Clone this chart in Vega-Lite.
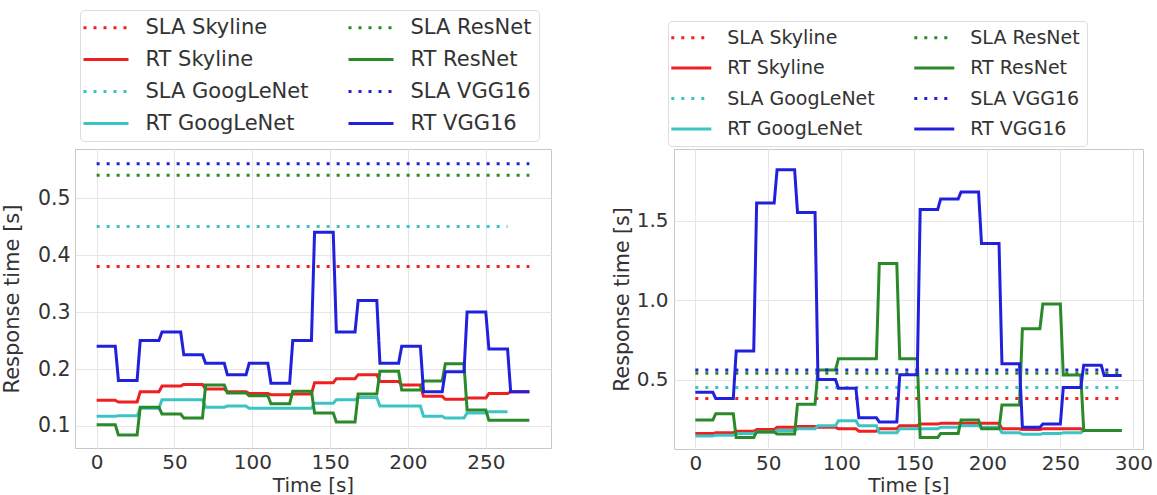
{
 "$schema": "https://vega.github.io/schema/vega-lite/v6.json",
 "background": "white",
 "padding": {"left": 0, "top": 9, "right": 0, "bottom": 0},
 "autosize": {"type": "pad"},
 "spacing": 123,
 "bounds": "flush",
 "config": {
  "font": "DejaVu Sans",
  "view": {"stroke": "#c8c8c8", "strokeWidth": 1},
  "axis": {"grid": true, "gridColor": "#e6e6e6", "gridWidth": 1, "domain": false, "ticks": false, "labelFont": "DejaVu Sans", "titleFont": "DejaVu Sans", "labelColor": "#333333", "titleColor": "#333333", "titleFontWeight": "normal", "labelFlush": false},
  "legend": {"labelFont": "DejaVu Sans", "labelColor": "#333333"}
 },
 "datasets": {
  "L": [
   {"s":"SLA Skyline","t":0,"v":0.38},{"s":"SLA Skyline","t":278,"v":0.38},
   {"s":"RT Skyline","t":0,"v":0.145},{"s":"RT Skyline","t":12,"v":0.145},
   {"s":"RT Skyline","t":14,"v":0.142},{"s":"RT Skyline","t":26,"v":0.142},
   {"s":"RT Skyline","t":28,"v":0.16},{"s":"RT Skyline","t":40,"v":0.16},
   {"s":"RT Skyline","t":42,"v":0.17},{"s":"RT Skyline","t":54,"v":0.17},
   {"s":"RT Skyline","t":56,"v":0.173},{"s":"RT Skyline","t":68,"v":0.173},
   {"s":"RT Skyline","t":70,"v":0.165},{"s":"RT Skyline","t":82,"v":0.165},
   {"s":"RT Skyline","t":84,"v":0.16},{"s":"RT Skyline","t":96,"v":0.16},
   {"s":"RT Skyline","t":98,"v":0.157},{"s":"RT Skyline","t":110,"v":0.157},
   {"s":"RT Skyline","t":112,"v":0.155},{"s":"RT Skyline","t":124,"v":0.155},
   {"s":"RT Skyline","t":126,"v":0.156},{"s":"RT Skyline","t":138,"v":0.156},
   {"s":"RT Skyline","t":140,"v":0.176},{"s":"RT Skyline","t":152,"v":0.176},
   {"s":"RT Skyline","t":154,"v":0.183},{"s":"RT Skyline","t":166,"v":0.183},
   {"s":"RT Skyline","t":168,"v":0.19},{"s":"RT Skyline","t":180,"v":0.19},
   {"s":"RT Skyline","t":182,"v":0.178},{"s":"RT Skyline","t":194,"v":0.178},
   {"s":"RT Skyline","t":196,"v":0.172},{"s":"RT Skyline","t":208,"v":0.172},
   {"s":"RT Skyline","t":210,"v":0.152},{"s":"RT Skyline","t":222,"v":0.152},
   {"s":"RT Skyline","t":224,"v":0.147},{"s":"RT Skyline","t":236,"v":0.147},
   {"s":"RT Skyline","t":238,"v":0.149},{"s":"RT Skyline","t":250,"v":0.149},
   {"s":"RT Skyline","t":252,"v":0.157},{"s":"RT Skyline","t":264,"v":0.157},
   {"s":"RT Skyline","t":266,"v":0.16},{"s":"RT Skyline","t":278,"v":0.16},
   {"s":"SLA GoogLeNet","t":0,"v":0.45},{"s":"SLA GoogLeNet","t":264,"v":0.45},
   {"s":"RT GoogLeNet","t":0,"v":0.117},{"s":"RT GoogLeNet","t":12,"v":0.117},
   {"s":"RT GoogLeNet","t":14,"v":0.118},{"s":"RT GoogLeNet","t":26,"v":0.118},
   {"s":"RT GoogLeNet","t":28,"v":0.131},{"s":"RT GoogLeNet","t":40,"v":0.131},
   {"s":"RT GoogLeNet","t":42,"v":0.146},{"s":"RT GoogLeNet","t":54,"v":0.146},
   {"s":"RT GoogLeNet","t":56,"v":0.146},{"s":"RT GoogLeNet","t":68,"v":0.146},
   {"s":"RT GoogLeNet","t":70,"v":0.133},{"s":"RT GoogLeNet","t":82,"v":0.133},
   {"s":"RT GoogLeNet","t":84,"v":0.135},{"s":"RT GoogLeNet","t":96,"v":0.135},
   {"s":"RT GoogLeNet","t":98,"v":0.131},{"s":"RT GoogLeNet","t":110,"v":0.131},
   {"s":"RT GoogLeNet","t":112,"v":0.131},{"s":"RT GoogLeNet","t":124,"v":0.131},
   {"s":"RT GoogLeNet","t":126,"v":0.131},{"s":"RT GoogLeNet","t":138,"v":0.131},
   {"s":"RT GoogLeNet","t":140,"v":0.14},{"s":"RT GoogLeNet","t":152,"v":0.14},
   {"s":"RT GoogLeNet","t":154,"v":0.146},{"s":"RT GoogLeNet","t":166,"v":0.146},
   {"s":"RT GoogLeNet","t":168,"v":0.15},{"s":"RT GoogLeNet","t":180,"v":0.15},
   {"s":"RT GoogLeNet","t":182,"v":0.135},{"s":"RT GoogLeNet","t":194,"v":0.135},
   {"s":"RT GoogLeNet","t":196,"v":0.135},{"s":"RT GoogLeNet","t":208,"v":0.135},
   {"s":"RT GoogLeNet","t":210,"v":0.117},{"s":"RT GoogLeNet","t":222,"v":0.117},
   {"s":"RT GoogLeNet","t":224,"v":0.114},{"s":"RT GoogLeNet","t":236,"v":0.114},
   {"s":"RT GoogLeNet","t":238,"v":0.123},{"s":"RT GoogLeNet","t":250,"v":0.123},
   {"s":"RT GoogLeNet","t":252,"v":0.125},{"s":"RT GoogLeNet","t":264,"v":0.125},
   {"s":"SLA ResNet","t":0,"v":0.54},{"s":"SLA ResNet","t":278,"v":0.54},
   {"s":"RT ResNet","t":0,"v":0.102},{"s":"RT ResNet","t":12,"v":0.102},
   {"s":"RT ResNet","t":14,"v":0.084},{"s":"RT ResNet","t":26,"v":0.084},
   {"s":"RT ResNet","t":28,"v":0.133},{"s":"RT ResNet","t":40,"v":0.133},
   {"s":"RT ResNet","t":42,"v":0.121},{"s":"RT ResNet","t":54,"v":0.121},
   {"s":"RT ResNet","t":56,"v":0.114},{"s":"RT ResNet","t":68,"v":0.114},
   {"s":"RT ResNet","t":70,"v":0.172},{"s":"RT ResNet","t":82,"v":0.172},
   {"s":"RT ResNet","t":84,"v":0.158},{"s":"RT ResNet","t":96,"v":0.158},
   {"s":"RT ResNet","t":98,"v":0.153},{"s":"RT ResNet","t":110,"v":0.153},
   {"s":"RT ResNet","t":112,"v":0.139},{"s":"RT ResNet","t":124,"v":0.139},
   {"s":"RT ResNet","t":126,"v":0.161},{"s":"RT ResNet","t":138,"v":0.161},
   {"s":"RT ResNet","t":140,"v":0.123},{"s":"RT ResNet","t":152,"v":0.123},
   {"s":"RT ResNet","t":154,"v":0.107},{"s":"RT ResNet","t":166,"v":0.107},
   {"s":"RT ResNet","t":168,"v":0.156},{"s":"RT ResNet","t":180,"v":0.156},
   {"s":"RT ResNet","t":182,"v":0.196},{"s":"RT ResNet","t":194,"v":0.196},
   {"s":"RT ResNet","t":196,"v":0.163},{"s":"RT ResNet","t":208,"v":0.163},
   {"s":"RT ResNet","t":210,"v":0.179},{"s":"RT ResNet","t":222,"v":0.179},
   {"s":"RT ResNet","t":224,"v":0.209},{"s":"RT ResNet","t":236,"v":0.209},
   {"s":"RT ResNet","t":238,"v":0.128},{"s":"RT ResNet","t":250,"v":0.128},
   {"s":"RT ResNet","t":252,"v":0.11},{"s":"RT ResNet","t":264,"v":0.11},
   {"s":"RT ResNet","t":266,"v":0.11},{"s":"RT ResNet","t":278,"v":0.11},
   {"s":"SLA VGG16","t":0,"v":0.56},{"s":"SLA VGG16","t":278,"v":0.56},
   {"s":"RT VGG16","t":0,"v":0.24},{"s":"RT VGG16","t":12,"v":0.24},
   {"s":"RT VGG16","t":14,"v":0.18},{"s":"RT VGG16","t":26,"v":0.18},
   {"s":"RT VGG16","t":28,"v":0.25},{"s":"RT VGG16","t":40,"v":0.25},
   {"s":"RT VGG16","t":42,"v":0.265},{"s":"RT VGG16","t":54,"v":0.265},
   {"s":"RT VGG16","t":56,"v":0.225},{"s":"RT VGG16","t":68,"v":0.225},
   {"s":"RT VGG16","t":70,"v":0.21},{"s":"RT VGG16","t":82,"v":0.21},
   {"s":"RT VGG16","t":84,"v":0.19},{"s":"RT VGG16","t":96,"v":0.19},
   {"s":"RT VGG16","t":98,"v":0.21},{"s":"RT VGG16","t":110,"v":0.21},
   {"s":"RT VGG16","t":112,"v":0.175},{"s":"RT VGG16","t":124,"v":0.175},
   {"s":"RT VGG16","t":126,"v":0.25},{"s":"RT VGG16","t":138,"v":0.25},
   {"s":"RT VGG16","t":140,"v":0.44},{"s":"RT VGG16","t":152,"v":0.44},
   {"s":"RT VGG16","t":154,"v":0.265},{"s":"RT VGG16","t":166,"v":0.265},
   {"s":"RT VGG16","t":168,"v":0.32},{"s":"RT VGG16","t":180,"v":0.32},
   {"s":"RT VGG16","t":182,"v":0.21},{"s":"RT VGG16","t":194,"v":0.21},
   {"s":"RT VGG16","t":196,"v":0.24},{"s":"RT VGG16","t":208,"v":0.24},
   {"s":"RT VGG16","t":210,"v":0.16},{"s":"RT VGG16","t":222,"v":0.16},
   {"s":"RT VGG16","t":224,"v":0.195},{"s":"RT VGG16","t":236,"v":0.195},
   {"s":"RT VGG16","t":238,"v":0.3},{"s":"RT VGG16","t":250,"v":0.3},
   {"s":"RT VGG16","t":252,"v":0.235},{"s":"RT VGG16","t":264,"v":0.235},
   {"s":"RT VGG16","t":266,"v":0.16},{"s":"RT VGG16","t":278,"v":0.16}
  ],
  "R": [
   {"s":"SLA Skyline","t":0,"v":0.38},{"s":"SLA Skyline","t":292,"v":0.38},
   {"s":"RT Skyline","t":0,"v":0.16},{"s":"RT Skyline","t":12,"v":0.16},
   {"s":"RT Skyline","t":14,"v":0.165},{"s":"RT Skyline","t":26,"v":0.165},
   {"s":"RT Skyline","t":28,"v":0.175},{"s":"RT Skyline","t":40,"v":0.175},
   {"s":"RT Skyline","t":42,"v":0.185},{"s":"RT Skyline","t":54,"v":0.185},
   {"s":"RT Skyline","t":56,"v":0.2},{"s":"RT Skyline","t":68,"v":0.2},
   {"s":"RT Skyline","t":70,"v":0.205},{"s":"RT Skyline","t":82,"v":0.205},
   {"s":"RT Skyline","t":84,"v":0.2},{"s":"RT Skyline","t":96,"v":0.2},
   {"s":"RT Skyline","t":98,"v":0.19},{"s":"RT Skyline","t":110,"v":0.19},
   {"s":"RT Skyline","t":112,"v":0.175},{"s":"RT Skyline","t":124,"v":0.175},
   {"s":"RT Skyline","t":126,"v":0.19},{"s":"RT Skyline","t":138,"v":0.19},
   {"s":"RT Skyline","t":140,"v":0.21},{"s":"RT Skyline","t":152,"v":0.21},
   {"s":"RT Skyline","t":154,"v":0.22},{"s":"RT Skyline","t":166,"v":0.22},
   {"s":"RT Skyline","t":168,"v":0.225},{"s":"RT Skyline","t":180,"v":0.225},
   {"s":"RT Skyline","t":182,"v":0.225},{"s":"RT Skyline","t":194,"v":0.225},
   {"s":"RT Skyline","t":196,"v":0.225},{"s":"RT Skyline","t":208,"v":0.225},
   {"s":"RT Skyline","t":210,"v":0.19},{"s":"RT Skyline","t":222,"v":0.19},
   {"s":"RT Skyline","t":224,"v":0.185},{"s":"RT Skyline","t":236,"v":0.185},
   {"s":"RT Skyline","t":238,"v":0.19},{"s":"RT Skyline","t":250,"v":0.19},
   {"s":"RT Skyline","t":252,"v":0.19},{"s":"RT Skyline","t":264,"v":0.19},
   {"s":"RT Skyline","t":266,"v":0.18},{"s":"RT Skyline","t":278,"v":0.18},
   {"s":"RT Skyline","t":280,"v":0.18},{"s":"RT Skyline","t":292,"v":0.18},
   {"s":"SLA GoogLeNet","t":0,"v":0.45},{"s":"SLA GoogLeNet","t":292,"v":0.45},
   {"s":"RT GoogLeNet","t":0,"v":0.145},{"s":"RT GoogLeNet","t":12,"v":0.145},
   {"s":"RT GoogLeNet","t":14,"v":0.15},{"s":"RT GoogLeNet","t":26,"v":0.15},
   {"s":"RT GoogLeNet","t":28,"v":0.16},{"s":"RT GoogLeNet","t":40,"v":0.16},
   {"s":"RT GoogLeNet","t":42,"v":0.17},{"s":"RT GoogLeNet","t":54,"v":0.17},
   {"s":"RT GoogLeNet","t":56,"v":0.18},{"s":"RT GoogLeNet","t":68,"v":0.18},
   {"s":"RT GoogLeNet","t":70,"v":0.19},{"s":"RT GoogLeNet","t":82,"v":0.19},
   {"s":"RT GoogLeNet","t":84,"v":0.21},{"s":"RT GoogLeNet","t":96,"v":0.21},
   {"s":"RT GoogLeNet","t":98,"v":0.24},{"s":"RT GoogLeNet","t":110,"v":0.24},
   {"s":"RT GoogLeNet","t":112,"v":0.21},{"s":"RT GoogLeNet","t":124,"v":0.21},
   {"s":"RT GoogLeNet","t":126,"v":0.165},{"s":"RT GoogLeNet","t":138,"v":0.165},
   {"s":"RT GoogLeNet","t":140,"v":0.19},{"s":"RT GoogLeNet","t":152,"v":0.19},
   {"s":"RT GoogLeNet","t":154,"v":0.19},{"s":"RT GoogLeNet","t":166,"v":0.19},
   {"s":"RT GoogLeNet","t":168,"v":0.2},{"s":"RT GoogLeNet","t":180,"v":0.2},
   {"s":"RT GoogLeNet","t":182,"v":0.21},{"s":"RT GoogLeNet","t":194,"v":0.21},
   {"s":"RT GoogLeNet","t":196,"v":0.2},{"s":"RT GoogLeNet","t":208,"v":0.2},
   {"s":"RT GoogLeNet","t":210,"v":0.165},{"s":"RT GoogLeNet","t":222,"v":0.165},
   {"s":"RT GoogLeNet","t":224,"v":0.155},{"s":"RT GoogLeNet","t":236,"v":0.155},
   {"s":"RT GoogLeNet","t":238,"v":0.16},{"s":"RT GoogLeNet","t":250,"v":0.16},
   {"s":"RT GoogLeNet","t":252,"v":0.165},{"s":"RT GoogLeNet","t":264,"v":0.165},
   {"s":"RT GoogLeNet","t":266,"v":0.18},{"s":"RT GoogLeNet","t":278,"v":0.18},
   {"s":"RT GoogLeNet","t":280,"v":0.18},{"s":"RT GoogLeNet","t":292,"v":0.18},
   {"s":"SLA ResNet","t":0,"v":0.54},{"s":"SLA ResNet","t":292,"v":0.54},
   {"s":"RT ResNet","t":0,"v":0.245},{"s":"RT ResNet","t":12,"v":0.245},
   {"s":"RT ResNet","t":14,"v":0.285},{"s":"RT ResNet","t":26,"v":0.285},
   {"s":"RT ResNet","t":28,"v":0.135},{"s":"RT ResNet","t":40,"v":0.135},
   {"s":"RT ResNet","t":42,"v":0.17},{"s":"RT ResNet","t":54,"v":0.17},
   {"s":"RT ResNet","t":56,"v":0.157},{"s":"RT ResNet","t":68,"v":0.157},
   {"s":"RT ResNet","t":70,"v":0.345},{"s":"RT ResNet","t":82,"v":0.345},
   {"s":"RT ResNet","t":84,"v":0.56},{"s":"RT ResNet","t":96,"v":0.56},
   {"s":"RT ResNet","t":98,"v":0.63},{"s":"RT ResNet","t":110,"v":0.63},
   {"s":"RT ResNet","t":112,"v":0.63},{"s":"RT ResNet","t":124,"v":0.63},
   {"s":"RT ResNet","t":126,"v":1.23},{"s":"RT ResNet","t":138,"v":1.23},
   {"s":"RT ResNet","t":140,"v":0.63},{"s":"RT ResNet","t":152,"v":0.63},
   {"s":"RT ResNet","t":154,"v":0.135},{"s":"RT ResNet","t":166,"v":0.135},
   {"s":"RT ResNet","t":168,"v":0.16},{"s":"RT ResNet","t":180,"v":0.16},
   {"s":"RT ResNet","t":182,"v":0.245},{"s":"RT ResNet","t":194,"v":0.245},
   {"s":"RT ResNet","t":196,"v":0.19},{"s":"RT ResNet","t":208,"v":0.19},
   {"s":"RT ResNet","t":210,"v":0.34},{"s":"RT ResNet","t":222,"v":0.34},
   {"s":"RT ResNet","t":224,"v":0.82},{"s":"RT ResNet","t":236,"v":0.82},
   {"s":"RT ResNet","t":238,"v":0.975},{"s":"RT ResNet","t":250,"v":0.975},
   {"s":"RT ResNet","t":252,"v":0.528},{"s":"RT ResNet","t":264,"v":0.528},
   {"s":"RT ResNet","t":266,"v":0.18},{"s":"RT ResNet","t":278,"v":0.18},
   {"s":"RT ResNet","t":280,"v":0.18},{"s":"RT ResNet","t":292,"v":0.18},
   {"s":"SLA VGG16","t":0,"v":0.56},{"s":"SLA VGG16","t":292,"v":0.56},
   {"s":"RT VGG16","t":0,"v":0.42},{"s":"RT VGG16","t":12,"v":0.42},
   {"s":"RT VGG16","t":14,"v":0.38},{"s":"RT VGG16","t":26,"v":0.38},
   {"s":"RT VGG16","t":28,"v":0.68},{"s":"RT VGG16","t":40,"v":0.68},
   {"s":"RT VGG16","t":42,"v":1.61},{"s":"RT VGG16","t":54,"v":1.61},
   {"s":"RT VGG16","t":56,"v":1.82},{"s":"RT VGG16","t":68,"v":1.82},
   {"s":"RT VGG16","t":70,"v":1.55},{"s":"RT VGG16","t":82,"v":1.55},
   {"s":"RT VGG16","t":84,"v":0.5},{"s":"RT VGG16","t":96,"v":0.5},
   {"s":"RT VGG16","t":98,"v":0.445},{"s":"RT VGG16","t":110,"v":0.445},
   {"s":"RT VGG16","t":112,"v":0.26},{"s":"RT VGG16","t":124,"v":0.26},
   {"s":"RT VGG16","t":126,"v":0.233},{"s":"RT VGG16","t":138,"v":0.233},
   {"s":"RT VGG16","t":140,"v":0.53},{"s":"RT VGG16","t":152,"v":0.53},
   {"s":"RT VGG16","t":154,"v":1.57},{"s":"RT VGG16","t":166,"v":1.57},
   {"s":"RT VGG16","t":168,"v":1.635},{"s":"RT VGG16","t":180,"v":1.635},
   {"s":"RT VGG16","t":182,"v":1.68},{"s":"RT VGG16","t":194,"v":1.68},
   {"s":"RT VGG16","t":196,"v":1.355},{"s":"RT VGG16","t":208,"v":1.355},
   {"s":"RT VGG16","t":210,"v":0.6},{"s":"RT VGG16","t":222,"v":0.6},
   {"s":"RT VGG16","t":224,"v":0.2},{"s":"RT VGG16","t":236,"v":0.2},
   {"s":"RT VGG16","t":238,"v":0.22},{"s":"RT VGG16","t":250,"v":0.22},
   {"s":"RT VGG16","t":252,"v":0.45},{"s":"RT VGG16","t":264,"v":0.45},
   {"s":"RT VGG16","t":266,"v":0.59},{"s":"RT VGG16","t":278,"v":0.59},
   {"s":"RT VGG16","t":280,"v":0.525},{"s":"RT VGG16","t":292,"v":0.525}
  ]
 },
 "hconcat": [
  {
   "width": 476, "height": 299,
   "data": {"name": "L"},
   "mark": {"type": "line", "strokeWidth": 3},
   "encoding": {
    "x": {"field": "t", "type": "quantitative", "scale": {"domain": [-13.9, 291.9], "nice": false, "zero": false},
          "axis": {"values": [0, 50, 100, 150, 200, 250], "format": "d", "title": "Time [s]", "labelFontSize": 20, "titleFontSize": 20, "labelPadding": 4, "titlePadding": 3}},
    "y": {"field": "v", "type": "quantitative", "scale": {"domain": [0.0614, 0.586], "nice": false, "zero": false},
          "axis": {"values": [0.1, 0.2, 0.3, 0.4, 0.5], "format": ".1f", "title": "Response time [s]", "labelFontSize": 20.5, "titleFontSize": 21, "labelPadding": 5, "titlePadding": 15}},
    "color": {"field": "s", "type": "nominal",
     "scale": {"domain": ["SLA Skyline", "RT Skyline", "SLA GoogLeNet", "RT GoogLeNet", "SLA ResNet", "RT ResNet", "SLA VGG16", "RT VGG16"],
               "range": ["#ee2020", "#ee2020", "#3cc4c4", "#3cc4c4", "#2a8a2a", "#2a8a2a", "#2020dd", "#2020dd"]},
     "legend": {"orient": "none", "legendX": 5, "legendY": -139, "columns": 2, "title": null, "labelFontSize": 21, "symbolType": "M-3,0H3", "symbolSize": 225, "symbolStrokeWidth": 3, "symbolOffset": 8.5, "labelOffset": 29, "columnPadding": 33, "rowPadding": 10, "padding": 7, "strokeColor": "#dddddd", "cornerRadius": 4, "fillColor": "white", "labelLimit": 400}},
    "strokeDash": {"field": "s", "type": "nominal",
     "scale": {"domain": ["SLA Skyline", "RT Skyline", "SLA GoogLeNet", "RT GoogLeNet", "SLA ResNet", "RT ResNet", "SLA VGG16", "RT VGG16"],
               "range": [[3, 7], [1, 0], [3, 7], [1, 0], [3, 7], [1, 0], [3, 7], [1, 0]]},
     "legend": {"orient": "none", "legendX": 5, "legendY": -139, "columns": 2, "title": null, "labelFontSize": 21, "symbolType": "M-3,0H3", "symbolSize": 225, "symbolStrokeWidth": 3, "symbolOffset": 8.5, "labelOffset": 29, "columnPadding": 33, "rowPadding": 10, "padding": 7, "strokeColor": "#dddddd", "cornerRadius": 4, "fillColor": "white", "labelLimit": 400}}
   }
  },
  {
   "width": 469, "height": 300,
   "data": {"name": "R"},
   "mark": {"type": "line", "strokeWidth": 3},
   "encoding": {
    "x": {"field": "t", "type": "quantitative", "scale": {"domain": [-14.6, 306.6], "nice": false, "zero": false},
          "axis": {"values": [0, 50, 100, 150, 200, 250, 300], "format": "d", "title": "Time [s]", "labelFontSize": 20, "titleFontSize": 20, "labelPadding": 4, "titlePadding": 2}},
    "y": {"field": "v", "type": "quantitative", "scale": {"domain": [0.063, 1.95], "nice": false, "zero": false},
          "axis": {"values": [0.5, 1.0, 1.5], "format": ".1f", "title": "Response time [s]", "labelFontSize": 20, "titleFontSize": 20.5, "labelPadding": 6, "titlePadding": 4}},
    "color": {"field": "s", "type": "nominal",
     "scale": {"domain": ["SLA Skyline", "RT Skyline", "SLA GoogLeNet", "RT GoogLeNet", "SLA ResNet", "RT ResNet", "SLA VGG16", "RT VGG16"],
               "range": ["#ee2020", "#ee2020", "#3cc4c4", "#3cc4c4", "#2a8a2a", "#2a8a2a", "#2020dd", "#2020dd"]},
     "legend": {"orient": "none", "legendX": -6, "legendY": -128, "columns": 2, "title": null, "labelFontSize": 19, "symbolType": "M-3,0H3", "symbolSize": 178, "symbolStrokeWidth": 3, "symbolOffset": 6.8, "labelOffset": 26.5, "columnPadding": 33, "rowPadding": 10.5, "padding": 7, "strokeColor": "#dddddd", "cornerRadius": 4, "fillColor": "white", "labelLimit": 400}},
    "strokeDash": {"field": "s", "type": "nominal",
     "scale": {"domain": ["SLA Skyline", "RT Skyline", "SLA GoogLeNet", "RT GoogLeNet", "SLA ResNet", "RT ResNet", "SLA VGG16", "RT VGG16"],
               "range": [[3, 7], [1, 0], [3, 7], [1, 0], [3, 7], [1, 0], [3, 7], [1, 0]]},
     "legend": {"orient": "none", "legendX": -6, "legendY": -128, "columns": 2, "title": null, "labelFontSize": 19, "symbolType": "M-3,0H3", "symbolSize": 178, "symbolStrokeWidth": 3, "symbolOffset": 6.8, "labelOffset": 26.5, "columnPadding": 33, "rowPadding": 10.5, "padding": 7, "strokeColor": "#dddddd", "cornerRadius": 4, "fillColor": "white", "labelLimit": 400}}
   }
  }
 ],
 "resolve": {
  "scale": {"x": "independent", "y": "independent", "color": "independent", "strokeDash": "independent"},
  "legend": {"color": "independent", "strokeDash": "independent"}
 }
}
